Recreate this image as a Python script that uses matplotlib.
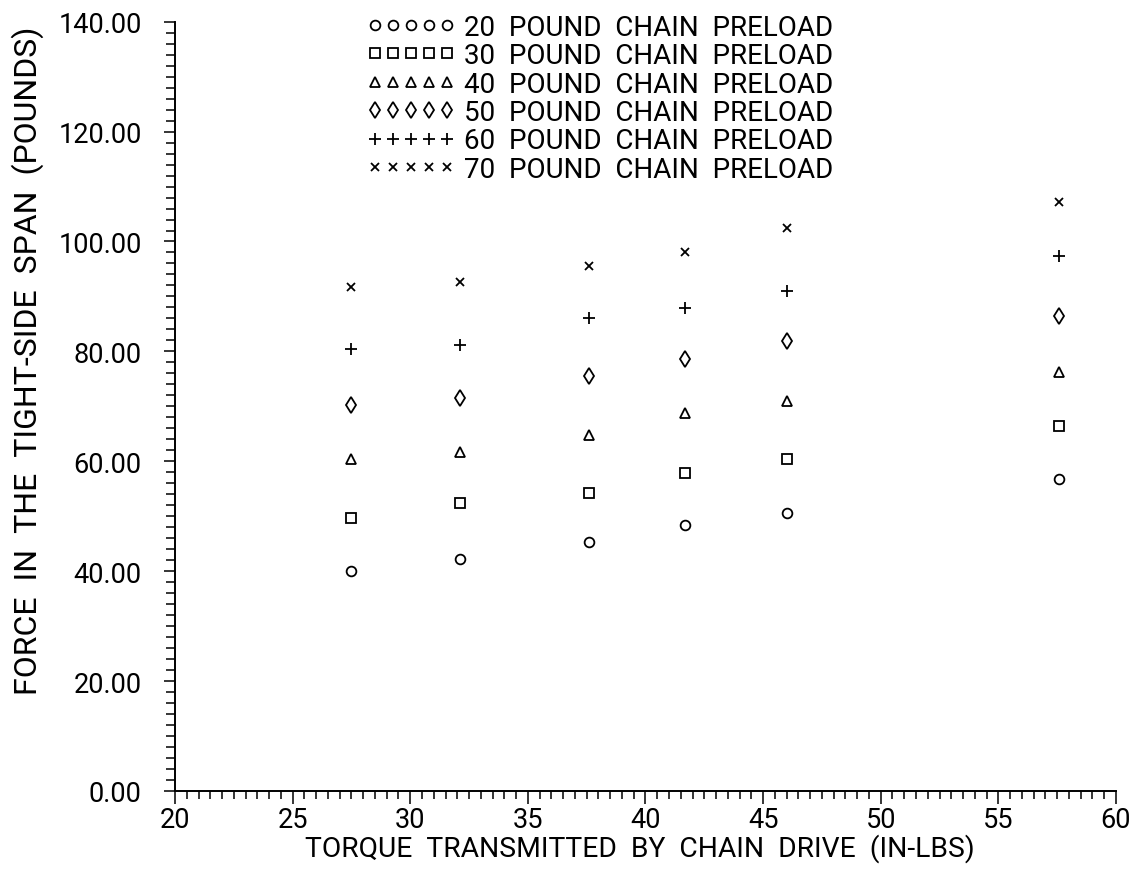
import numpy as np
import matplotlib
matplotlib.use("Agg")
import matplotlib.pyplot as plt
from matplotlib.ticker import MultipleLocator, FormatStrFormatter

# torque transmitted (in-lbs), one value per test column
torque = [27.5, 32.1, 37.6, 41.7, 46.0, 57.6]

# tight-side span force (pounds) for each chain preload
preload = [20, 30, 40, 50, 60, 70]
force_20 = [40.0, 42.2, 45.3, 48.4, 50.5, 56.8]
force_30 = [49.6, 52.4, 54.3, 57.8, 60.4, 66.5]
force_40 = [60.4, 61.7, 64.8, 68.8, 71.0, 76.2]
force_50 = [70.3, 71.5, 75.5, 78.6, 81.8, 86.4]
force_60 = [80.4, 81.1, 86.0, 87.9, 90.9, 97.4]
force_70 = [91.8, 92.7, 95.5, 98.1, 102.4, 107.2]

forces = [force_20, force_30, force_40, force_50, force_60, force_70]
markers = ['o', 's', '^', 'd', '+', 'x']
msizes = [7, 6.5, 6.5, 8, 8, 5.5]

plt.rcParams['font.family'] = ['Roboto', 'DejaVu Sans']

fig = plt.figure(figsize=(11.4, 8.7), dpi=100)
ax = fig.add_axes([0.1535, 0.0897, 0.8254, 0.8842])

for p, f, m, ms in zip(preload, forces, markers, msizes):
    ax.plot(torque, f, linestyle='none', marker=m, markersize=ms,
            markerfacecolor='none', markeredgecolor='black',
            markeredgewidth=1.3, color='black',
            label=f"{p}  POUND  CHAIN  PRELOAD")

ax.set_xlim(20, 60)
ax.set_ylim(0, 140)
ax.xaxis.set_major_locator(MultipleLocator(5))
ax.xaxis.set_minor_locator(MultipleLocator(0.5))
ax.yaxis.set_major_locator(MultipleLocator(20))
ax.yaxis.set_minor_locator(MultipleLocator(2))
ax.yaxis.set_major_formatter(FormatStrFormatter('%.2f'))

for s in ['top', 'right']:
    ax.spines[s].set_visible(False)
for s in ['left', 'bottom']:
    ax.spines[s].set_linewidth(1.4)

ax.tick_params(which='both', direction='out', width=1.1, colors='black')
ax.tick_params(axis='x', which='major', length=9, pad=2, labelsize=19.5)
ax.tick_params(axis='x', which='minor', length=6)
ax.tick_params(axis='y', which='major', length=8, pad=16, labelsize=19.5)
ax.tick_params(axis='y', which='minor', length=6.5)

ax.set_xlabel("TORQUE  TRANSMITTED  BY  CHAIN  DRIVE  (IN-LBS)",
              fontsize=20.3, va='center')
ax.xaxis.set_label_coords(0.494, -0.074)
ax.set_ylabel("FORCE  IN  THE  TIGHT-SIDE  SPAN  (POUNDS)",
              fontsize=23, va='center')
ax.yaxis.set_label_coords(-0.156, 0.561)

ax.legend(loc='upper left', bbox_to_anchor=(0.3217, 0.983),
          bbox_transform=fig.transFigure, frameon=False, numpoints=5,
          handlelength=3.19, handletextpad=0.31, labelspacing=0.05,
          borderpad=0, borderaxespad=0, fontsize=20)

fig.savefig("out.png", dpi=100)
